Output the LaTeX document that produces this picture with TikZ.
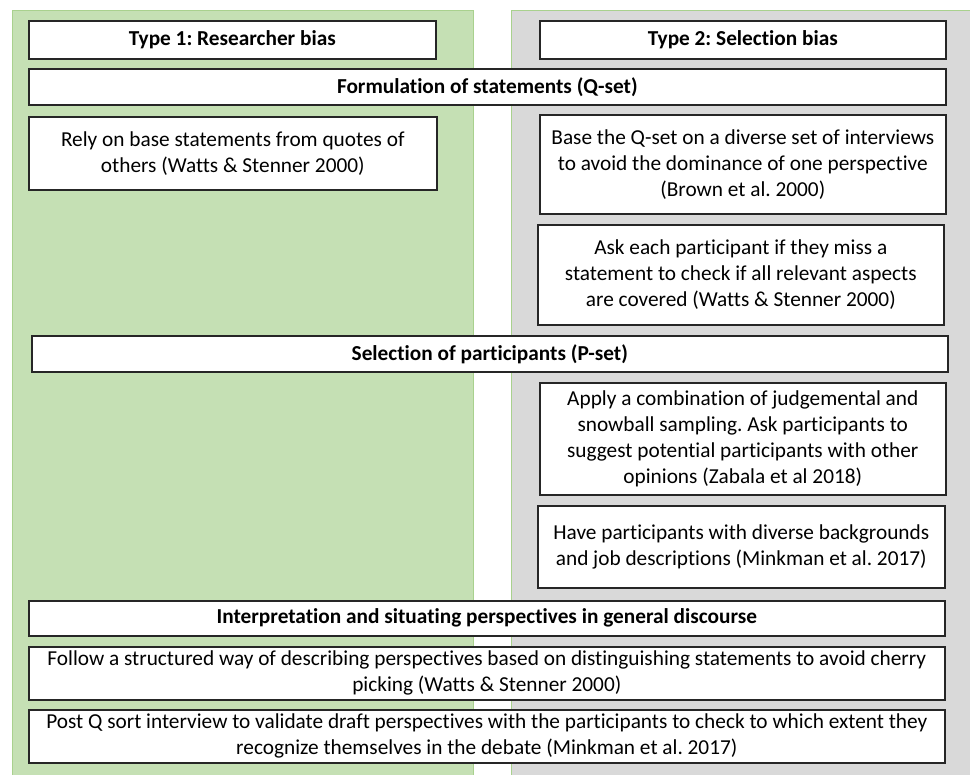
\documentclass[tikz,border=0pt]{standalone}
\usepackage{fontspec}
\setmainfont{Carlito}[Ligatures={NoCommon}]
\frenchspacing
\definecolor{panelgreen}{HTML}{C5E0B4}
\definecolor{panelgreenline}{HTML}{A9D18E}
\definecolor{panelgray}{HTML}{D9D9D9}
\definecolor{boxline}{HTML}{262626}
\newcommand{\boxfont}{\fontsize{21.3}{26}\selectfont\frenchspacing}
\tikzset{
  panel/.style={line width=0.8pt, draw=panelgreenline},
  textbox/.style={draw=boxline, line width=1.6pt, fill=white, align=center,
    inner sep=0pt, anchor=north west, font=\boxfont, text=black},
}
\begin{document}
\begin{tikzpicture}[x=1pt,y=-1pt]
\useasboundingbox (0,0) rectangle (970,775);
\fill[white] (0,0) rectangle (970,775);
\filldraw[panel, fill=panelgreen] (12,10) rectangle (473,780);
\filldraw[panel, fill=panelgray] (511,10) rectangle (975,780);

\node[textbox, minimum width=407pt, minimum height=38pt] (t1) at (28,20) {\textbf{Type 1: Researcher bias}};
\node[textbox, minimum width=406pt, minimum height=38pt] (t2) at (539,20) {\textbf{Type 2: Selection bias}};
\node[textbox, minimum width=917pt, minimum height=36pt] (form) at (28,68) {\textbf{Formulation of statements (Q-set)}};
\node[textbox, minimum width=408pt, minimum height=73pt] (rely) at (28,116) {Rely on base statements from quotes of\\others (Watts \& Stenner 2000)};
\node[textbox, minimum width=406pt, minimum height=99pt] (qset) at (539,114) {Base the Q-set on a diverse set of interviews\\to avoid the dominance of one perspective\\(Brown et al. 2000)};
\node[textbox, minimum width=406pt, minimum height=100pt] (ask) at (537,224) {Ask each participant if they miss a\\statement to check if all relevant aspects\\are covered (Watts \& Stenner 2000)};
\node[textbox, minimum width=916pt, minimum height=36pt] (sel) at (31,335) {\textbf{Selection of participants (P-set)}};
\node[textbox, minimum width=406pt, minimum height=112pt] (apply) at (539,382) {Apply a combination of judgemental and\\snowball sampling. Ask participants to\\suggest potential participants with other\\opinions (Zabala et al 2018)};
\node[textbox, minimum width=407pt, minimum height=82pt] (have) at (537,505) {Have participants with diverse backgrounds\\and job descriptions (Minkman et al. 2017)};
\node[textbox, minimum width=916pt, minimum height=35pt] (interp) at (28,600) {\textbf{Interpretation and situating perspectives in general discourse}};
\node[textbox, minimum width=916pt, minimum height=53pt] (follow) at (28,646) {Follow a structured way of describing perspectives based on distinguishing statements to avoid cherry\\picking (Watts \& Stenner 2000)};
\node[textbox, minimum width=916pt, minimum height=53pt] (post) at (28,709) {Post Q sort interview to validate draft perspectives with the participants to check to which extent they\\recognize themselves in the debate (Minkman et al. 2017)};
\end{tikzpicture}
\end{document}
